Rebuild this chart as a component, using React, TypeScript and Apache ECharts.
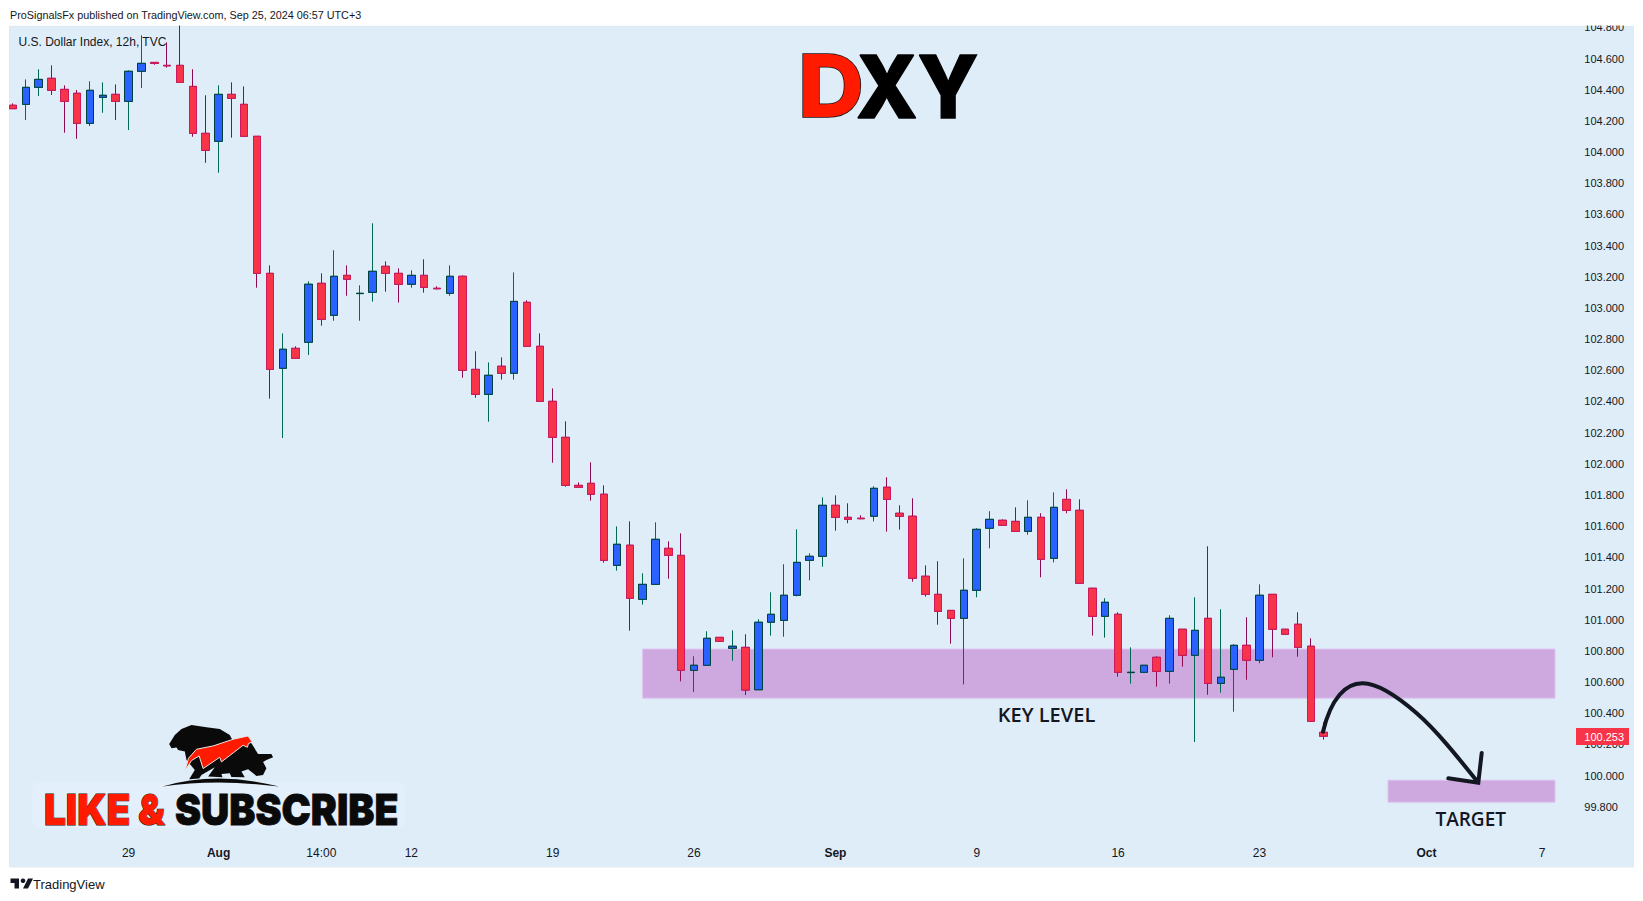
import React, { useEffect, useRef } from "react";
import * as echarts from "echarts";

// [open, close, low, high] of each 12h bar
const candles: number[][] = [
  [104.300,104.278,104.278,104.312],[104.306,104.415,104.205,104.466],[104.415,104.466,104.359,104.531],
  [104.473,104.396,104.366,104.556],[104.402,104.325,104.124,104.428],[104.377,104.184,104.085,104.398],
  [104.184,104.396,104.167,104.454],[104.351,104.364,104.252,104.447],[104.370,104.325,104.205,104.434],
  [104.325,104.518,104.141,104.524],[104.518,104.569,104.411,104.749],[104.575,104.569,104.560,104.575],
  [104.556,104.553,104.541,104.704],[104.556,104.447,104.447,104.900],[104.421,104.120,104.098,104.531],
  [104.120,104.011,103.931,104.364],[104.069,104.370,103.867,104.428],[104.370,104.345,104.092,104.447],
  [104.306,104.101,104.101,104.421],[104.101,103.222,103.130,104.101],[103.222,102.606,102.418,103.273],
  [102.613,102.735,102.166,102.837],[102.741,102.677,102.677,102.754],[102.780,103.152,102.698,103.171],
  [103.158,102.927,102.886,103.222],[102.953,103.203,102.918,103.370],[103.209,103.184,103.078,103.273],
  [103.092,103.094,102.918,103.145],[103.100,103.235,103.040,103.543],[103.267,103.222,103.104,103.299],
  [103.222,103.152,103.034,103.254],[103.152,103.209,103.130,103.241],[103.209,103.132,103.098,103.312],
  [103.126,103.123,103.119,103.139],[103.094,103.203,103.078,103.273],[103.203,102.600,102.552,103.209],
  [102.606,102.446,102.424,102.722],[102.446,102.568,102.270,102.651],[102.626,102.581,102.540,102.683],
  [102.581,103.042,102.540,103.228],[103.036,102.754,102.754,103.049],[102.754,102.401,102.401,102.837],
  [102.401,102.170,102.007,102.484],[102.170,101.862,101.853,102.273],[101.862,101.850,101.850,101.881],
  [101.875,101.805,101.764,102.010],[101.805,101.381,101.366,101.862],[101.349,101.484,101.315,101.599],
  [101.478,101.138,100.930,101.631],[101.131,101.227,101.097,101.298],[101.227,101.516,101.227,101.625],
  [101.458,101.413,101.263,101.503],[101.413,100.676,100.605,101.554],[100.676,100.708,100.537,100.766],
  [100.708,100.881,100.708,100.926],[100.887,100.862,100.862,100.887],[100.817,100.830,100.737,100.932],
  [100.823,100.549,100.517,100.907],[100.551,100.984,100.551,101.003],[100.984,101.035,100.898,101.176],
  [100.996,101.157,100.891,101.356],[101.157,101.368,101.150,101.580],[101.381,101.407,101.253,101.426],
  [101.407,101.734,101.340,101.785],[101.734,101.657,101.571,101.798],[101.657,101.644,101.619,101.747],
  [101.651,101.648,101.644,101.670],[101.664,101.843,101.631,101.856],[101.850,101.772,101.565,101.914],
  [101.683,101.664,101.578,101.734],[101.664,101.266,101.244,101.779],[101.279,101.163,101.148,101.349],
  [101.163,101.054,100.968,101.375],[101.060,101.009,100.846,101.060],[101.009,101.189,100.585,101.394],
  [101.189,101.580,101.144,101.587],[101.587,101.644,101.458,101.696],[101.638,101.606,101.606,101.644],
  [101.631,101.567,101.567,101.721],[101.567,101.657,101.545,101.766],[101.657,101.388,101.272,101.683],
  [101.394,101.721,101.368,101.817],[101.772,101.702,101.683,101.837],[101.702,101.234,101.234,101.772],
  [101.202,101.022,100.898,101.202],[101.022,101.112,100.885,101.138],[101.035,100.663,100.635,101.048],
  [100.661,100.663,100.590,100.823],[100.663,100.708,100.663,100.708],[100.759,100.669,100.571,100.766],
  [100.669,101.009,100.590,101.029],[100.939,100.772,100.699,100.939],[100.772,100.932,100.216,101.144],
  [101.009,100.592,100.519,101.471],[100.592,100.631,100.532,101.067],[100.682,100.836,100.410,100.843],
  [100.836,100.740,100.615,101.016],[100.740,101.157,100.721,101.227],[101.163,100.939,100.759,101.163],
  [100.939,100.907,100.907,100.939],[100.971,100.823,100.763,101.048],[100.830,100.349,100.349,100.881],
  [100.278,100.253,100.231,100.342],
];

const slotCount = 122;
const timeTicks: [number, string][] = [
  [9, "29"], [16, "Aug"], [24, "14:00"], [31, "12"], [42, "19"], [53, "26"],
  [64, "Sep"], [75, "9"], [86, "16"], [97, "23"], [110, "Oct"], [119, "7"],
];
const boldTicks = ["Aug", "Sep", "Oct"];

const keyLevelZone = { from: 49, to: 120, high: 100.812, low: 100.497 };
const targetZone = { from: 107, to: 120, high: 99.971, low: 99.83 };
const lastPrice = "100.253";

const categories = Array.from({ length: slotCount }, (_, i) => {
  const t = timeTicks.find((p) => p[0] === i);
  return t ? t[1] : "";
});
const bodies = candles.map(([o, c]) => [o, c, Math.min(o, c), Math.max(o, c)]);

const INK = "#131722";
const SANS = "'Liberation Sans', Arial, sans-serif";
const PANEL = "#DFEDF9";

const ARROW_D =
  "M1323 731.7 C1331 698 1346 683 1362.7 683.3 C1378 683.5 1398 697 1416.7 713.3 C1436 730 1456 755 1478.3 782.7 " +
  "M1481.7 753 L1478.3 782.7 L1448.3 778.3";
const BEAST_D =
  "M508 192 L525 165 L545 147 L575 135 L620 142 L660 147 L690 165 L702 188 L730 180 L755 190 L775 222 L815 222 L820 232 L800 240 L790 246 " +
  "L800 265 L790 285 L770 288 L745 268 L725 275 L735 292 L695 291 L690 280 L665 282 L668 292 L625 290 L645 262 L605 285 L598 296 L568 298 L585 270 L560 240 L555 215 L535 210 L530 203 L515 205 Z " +
  "M488 320 Q650 272 838 320 Q650 296 488 320 Z";
const FLAME_D =
  "M556 272 L566 235 L590 208 L640 198 L700 178 L745 168 L757 186 L746 191 L743 202 L730 196 L665 246 L660 232 L610 266 L598 228 L575 242 Z";
const TV_D =
  "M10.5 878.5 H19 V888.5 H14.5 V883 H10.5 Z M28 878.5 H33 L28 888.5 H23 Z";

export default function App() {
  const ref = useRef<HTMLDivElement>(null);
  useEffect(() => {
    document.body.style.margin = "0";
    echarts.graphic.registerShape("arrowCurve", echarts.graphic.extendPath(ARROW_D, {}));
    echarts.graphic.registerShape("beast", echarts.graphic.extendPath(BEAST_D, {}));
    echarts.graphic.registerShape("flame", echarts.graphic.extendPath(FLAME_D, {}));
    echarts.graphic.registerShape("tvMark", echarts.graphic.extendPath(TV_D, {}));

    const chart = echarts.init(ref.current!, null, { renderer: "svg" });
    const zone = (z: typeof keyLevelZone) => [
      { xAxis: z.from, yAxis: z.high },
      { xAxis: z.to, yAxis: z.low },
    ];
    chart.setOption({
      animation: false,
      backgroundColor: "#ffffff",
      grid: { left: 6.5, top: 27.32, width: 1567.8, height: 841.86, containLabel: false },
      tooltip: { show: false },
      xAxis: {
        type: "category",
        data: categories,
        boundaryGap: true,
        axisLine: { show: false },
        axisTick: { show: false },
        splitLine: { show: false },
        axisLabel: {
          inside: true,
          margin: 10.5,
          interval: (_: number, v: string) => v !== "",
          hideOverlap: false,
          color: INK,
          fontFamily: SANS,
          fontSize: 12,
          formatter: (v: string) => (boldTicks.includes(v) ? `{b|${v}}` : v),
          rich: { b: { fontWeight: "bold", fontSize: 12, fontFamily: SANS, color: INK } },
        },
      },
      yAxis: {
        type: "value",
        position: "right",
        min: 99.4,
        max: 104.8,
        interval: 0.2,
        scale: true,
        axisLine: { show: false },
        axisTick: { show: false },
        splitLine: { show: false },
        axisLabel: {
          margin: 10,
          align: "left",
          color: INK,
          fontFamily: SANS,
          fontSize: 11,
          formatter: (v: number) => (v < 99.7 ? "" : v.toFixed(3)),
        },
      },
      series: [
        {
          type: "candlestick",
          name: "wicks",
          z: 3,
          barWidth: 8,
          data: candles,
          itemStyle: {
            color: "#2962FF",
            color0: "#F73448",
            borderColor: "#006B52",
            borderColor0: "#8E0B52",
            borderWidth: 1,
          },
          markArea: {
            silent: true,
            z: 1,
            itemStyle: { color: "#CDA9DF", borderColor: "#E0C3F0", borderWidth: 1 },
            data: [zone(keyLevelZone), zone(targetZone)],
          },
        },
        {
          type: "candlestick",
          name: "U.S. Dollar Index",
          z: 4,
          barWidth: 8,
          data: bodies,
          itemStyle: {
            color: "#2962FF",
            color0: "#F73448",
            borderColor: "#00403F",
            borderColor0: "#CC1A5C",
            borderWidth: 1,
          },
        },
      ],
      graphic: [
        { type: "rect", z: -5, shape: { x: 9.5, y: 26, width: 1624, height: 841 }, style: { fill: PANEL, stroke: "#E3E8EE", lineWidth: 1 } },
        { type: "rect", z: 50, shape: { x: 0, y: 0, width: 1643, height: 25.5 }, style: { fill: "#ffffff" } },
        { type: "text", z: 60, x: 10, y: 15, style: { text: "ProSignalsFx published on TradingView.com, Sep 25, 2024 06:57 UTC+3", fill: INK, fontFamily: SANS, fontSize: 10.8, textVerticalAlign: "middle" } },
        { type: "text", z: 60, x: 18.5, y: 41.7, style: { text: "U.S. Dollar Index, 12h, TVC", fill: INK, fontFamily: SANS, fontSize: 12, textVerticalAlign: "middle" } },
        { type: "text", z: 60, x: 798, y: 86, scaleX: 1.05, style: { text: "D", fill: "#FF1A00", stroke: "#111111", lineWidth: 1.5, fontFamily: "Inter, 'Liberation Sans'", fontWeight: 800, fontSize: 87, textVerticalAlign: "middle" } },
        { type: "text", z: 60, x: 856, y: 86, scaleX: 0.93, style: { text: "XY", fill: "#000000", stroke: "#000000", lineWidth: 1.5, fontFamily: "Inter, 'Liberation Sans'", fontWeight: 800, fontSize: 87, textVerticalAlign: "middle" } },
        { type: "text", z: 60, x: 1046.5, y: 714.5, style: { text: "KEY LEVEL", fill: INK, fontFamily: "'Open Sans'", fontWeight: 600, fontSize: 20, textAlign: "center", textVerticalAlign: "middle" } },
        { type: "text", z: 60, x: 1470.7, y: 819, style: { text: "TARGET", fill: INK, fontFamily: "'Open Sans'", fontWeight: 600, fontSize: 19, textAlign: "center", textVerticalAlign: "middle" } },
        { type: "arrowCurve", z: 55, style: { fill: "none", stroke: INK, lineWidth: 4, lineCap: "round", lineJoin: "miter" } },
        { type: "rect", z: 60, shape: { x: 1576, y: 728, width: 53, height: 17 }, style: { fill: "#F73448" } },
        { type: "text", z: 61, x: 1584.3, y: 736.7, style: { text: lastPrice, fill: "#ffffff", fontFamily: SANS, fontSize: 11, textVerticalAlign: "middle" } },
        { type: "rect", z: 40, shape: { x: 32, y: 782, width: 373, height: 46, r: 8 }, style: { fill: "#E3EFFA" } },
        { type: "beast", z: 41, x: 0, y: 680, scaleX: 1 / 3, scaleY: 1 / 3, style: { fill: "#0A0A0A" } },
        { type: "flame", z: 42, x: 0, y: 680, scaleX: 1 / 3, scaleY: 1 / 3, style: { fill: "#FF1A00", stroke: "#E8E8E8", lineWidth: 3 } },
        { type: "text", z: 43, x: 44, y: 809, scaleX: 0.9, style: { text: "LIKE &", fill: "#FF1A00", stroke: "#111111", lineWidth: 1, fontFamily: "Inter, 'Liberation Sans'", fontWeight: 900, fontSize: 43, textVerticalAlign: "middle" } },
        { type: "text", z: 43, x: 175, y: 809, scaleX: 0.91, style: { text: "SUBSCRIBE", fill: "#0A0A0A", stroke: "#0A0A0A", lineWidth: 0.8, fontFamily: "Inter, 'Liberation Sans'", fontWeight: 900, fontSize: 43, textVerticalAlign: "middle" } },
        { type: "tvMark", z: 60, style: { fill: INK } },
        { type: "circle", z: 60, shape: { cx: 23, cy: 880.7, r: 2.3 }, style: { fill: INK } },
        { type: "text", z: 60, x: 33, y: 884, style: { text: "TradingView", fill: INK, fontFamily: SANS, fontSize: 13, textVerticalAlign: "middle" } },
      ],
    });
    return () => chart.dispose();
  }, []);
  return <div ref={ref} style={{ width: 1643, height: 901 }} />;
}
